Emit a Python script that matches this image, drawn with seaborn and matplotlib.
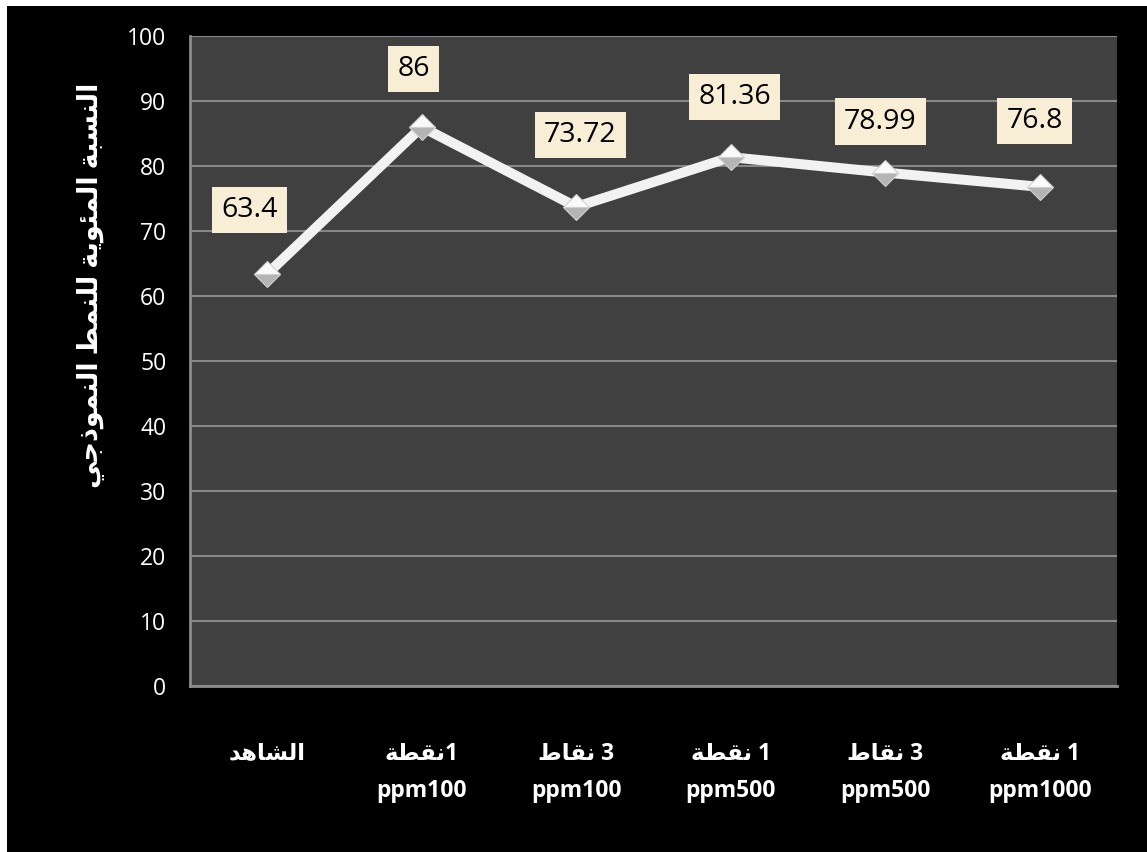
import re
import numpy as np
import pandas as pd
import matplotlib
matplotlib.use("Agg")
import matplotlib.pyplot as plt
import seaborn as sns

# ---- data -------------------------------------------------------------
categories = [
    "الشاهد",
    "1نقطة\nppm100",
    "3 نقاط\nppm100",
    "1 نقطة\nppm500",
    "3 نقاط\nppm500",
    "1 نقطة\nppm1000",
]
values = [63.4, 86, 73.72, 81.36, 78.99, 76.8]
value_labels = ["63.4", "86", "73.72", "81.36", "78.99", "76.8"]
y_ticks = [0, 10, 20, 30, 40, 50, 60, 70, 80, 90, 100]
y_title = "النسبة المئوية للنمط النموذجي"

# label placement relative to each point (pixels)
label_offsets = [(-18, 64), (-8, 58), (4, 72), (4, 60), (-5, 51), (-5, 66)]

# ---- minimal Arabic shaping (presentation forms) + RTL ordering --------
FORMS = {  # isolated, final, initial, medial
    "\u0627": (0xFE8D, 0xFE8E, None, None),
    "\u0628": (0xFE8F, 0xFE90, 0xFE91, 0xFE92),
    "\u0629": (0xFE93, 0xFE94, None, None),
    "\u062A": (0xFE95, 0xFE96, 0xFE97, 0xFE98),
    "\u062C": (0xFE9D, 0xFE9E, 0xFE9F, 0xFEA0),
    "\u062F": (0xFEA9, 0xFEAA, None, None),
    "\u0630": (0xFEAB, 0xFEAC, None, None),
    "\u0633": (0xFEB1, 0xFEB2, 0xFEB3, 0xFEB4),
    "\u0634": (0xFEB5, 0xFEB6, 0xFEB7, 0xFEB8),
    "\u0637": (0xFEC1, 0xFEC2, 0xFEC3, 0xFEC4),
    "\u0642": (0xFED5, 0xFED6, 0xFED7, 0xFED8),
    "\u0644": (0xFEDD, 0xFEDE, 0xFEDF, 0xFEE0),
    "\u0645": (0xFEE1, 0xFEE2, 0xFEE3, 0xFEE4),
    "\u0646": (0xFEE5, 0xFEE6, 0xFEE7, 0xFEE8),
    "\u0647": (0xFEE9, 0xFEEA, 0xFEEB, 0xFEEC),
    "\u0648": (0xFEED, 0xFEEE, None, None),
    "\u064A": (0xFEF1, 0xFEF2, 0xFEF3, 0xFEF4),
    "\u0626": (0xFE89, 0xFE8A, 0xFE8B, 0xFE8C),
    "\u0624": (0xFE85, 0xFE86, None, None),
}
AR = "\u0600-\u06FF"


def dual(ch):
    return ch in FORMS and FORMS[ch][2] is not None


def shape_word(word):
    out = []
    for i, ch in enumerate(word):
        if ch not in FORMS:
            out.append(ch)
            continue
        prev = word[i - 1] if i > 0 else ""
        nxt = word[i + 1] if i + 1 < len(word) else ""
        jp = dual(prev)
        jn = dual(ch) and nxt in FORMS
        iso, fin, ini, med = FORMS[ch]
        if jp and jn:
            code = med
        elif jp:
            code = fin
        elif jn:
            code = ini
        else:
            code = iso
        out.append(chr(code))
    return "".join(reversed(out))


def visual_line(line):
    if not re.search(f"[{AR}]", line):
        return line
    runs = re.findall(f"[{AR}]+|\\s+|[^{AR}\\s]+", line)
    return "".join(shape_word(r) if re.match(f"[{AR}]", r) else r
                   for r in reversed(runs))


def visual(text):
    return "\n".join(visual_line(l) for l in text.split("\n"))


# ---- figure -----------------------------------------------------------
sns.set_style("dark")
plt.rcParams["font.family"] = ["Open Sans", "DejaVu Sans"]

W, H = 1147, 852
fig = plt.figure(figsize=(W / 100, H / 100), dpi=100, facecolor="black")
# thin white margin along the top and left edges
for rect in [(0, 846 / H, 1, 6 / H), (0, 0, 7 / W, 1)]:
    fig.patches.append(plt.Rectangle(rect[:2], rect[2], rect[3],
                                     transform=fig.transFigure,
                                     facecolor="white", edgecolor="none",
                                     zorder=-5))

ax = fig.add_axes([190 / W, 1 - 686 / H, (1117 - 190) / W, (686 - 36) / H])
ax.set_facecolor("#404040")

df = pd.DataFrame({"cat": categories, "val": values})
sns.lineplot(data=df, x="cat", y="val", ax=ax, sort=False,
             color="#f2f2f2", linewidth=7.2, marker="D", markersize=13.5,
             markerfacecolor="#fafafa", markerfacecoloralt="#b4b4b4",
             fillstyle="top", markeredgecolor="#d0d0d0", markeredgewidth=0.8,
             zorder=3)

ax.set_xlim(-0.5, len(categories) - 0.5)
ax.set_ylim(0, 100)
ax.set_yticks(y_ticks)
ax.set_yticklabels([str(t) for t in y_ticks], color="white", fontsize=16.5)
ax.tick_params(axis="y", length=0, pad=17)
ax.set_xticks(range(len(categories)))
ax.set_xticklabels([visual(c) for c in categories], color="white",
                   fontsize=16.5, fontweight="bold", linespacing=1.75,
                   va="top")
ax.tick_params(axis="x", length=0, pad=40)

ax.grid(axis="y", color="#878787", linewidth=1.5)
ax.grid(axis="x", visible=False)
ax.set_axisbelow(True)
for side in ("top", "right"):
    ax.spines[side].set_visible(False)
for side in ("left", "bottom"):
    ax.spines[side].set_visible(True)
    ax.spines[side].set_color("#8c8c8c")
    ax.spines[side].set_linewidth(2)

ax.set_xlabel("")
ax.set_ylabel(visual(y_title), color="white", fontsize=19.5,
              fontweight="bold")
ax.yaxis.set_label_coords(-0.093, 0.617)

for i, (v, txt) in enumerate(zip(values, value_labels)):
    dx, dy = label_offsets[i]
    ax.annotate(txt, xy=(categories[i], v), xytext=(dx, dy),
                textcoords="offset pixels", ha="center", va="center",
                fontsize=20.5, color="black", zorder=5,
                bbox=dict(boxstyle="square,pad=0.32", facecolor="#f8eed5",
                          edgecolor="none"))

fig.savefig("out.png", dpi=100, facecolor=fig.get_facecolor())
